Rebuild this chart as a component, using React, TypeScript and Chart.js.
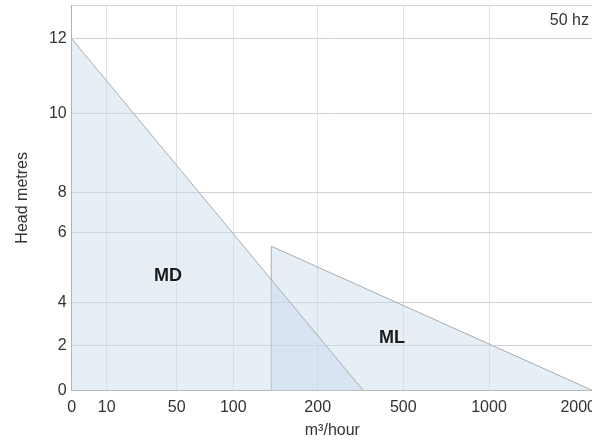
import React, { useEffect, useRef } from 'react';
import { Chart, LinearScale, registerables } from 'chart.js';

// ---- data ----
const flowTicks = [0, 10, 50, 100, 200, 500, 1000, 2000];
const headTicks = [0, 2, 4, 6, 8, 10, 12];

const mdFlow = [0, 360];
const mdHead = [12, 0];
const mlFlow = [145, 145, 2000];
const mlHead = [0, 5.6, 0];

const regionNames = ['MD', 'ML'];
const regionFlow = [45, 460];
const regionHead = [4.75, 2.34];

const freqNote = '50 hz';

// ---- axis definition: breakpoints and their printed relative spacing ----
const flowBreaks = [0, 10, 50, 100, 200, 500, 1000, 2000];
const flowSpans = [35, 70, 56.6, 84.4, 85.6, 85.7, 104];
const headBreaks = [0, 2, 4, 6, 8, 10, 12, 13];
const headSpans = [45.4, 43, 70, 40, 78.6, 74.7, 33.7];

const BREAKS: Record<string, { values: number[]; spans: number[]; ticks: number[] }> = {
  x: { values: flowBreaks, spans: flowSpans, ticks: flowTicks },
  y: { values: headBreaks, spans: headSpans, ticks: headTicks },
};

class PiecewiseScale extends LinearScale {
  static id = 'piecewise';
  static defaults = {};

  determineDataLimits() {
    const b = BREAKS[this.id];
    this.min = b.values[0];
    this.max = b.values[b.values.length - 1];
  }

  buildTicks() {
    return BREAKS[this.id].ticks.map((value) => ({ value }));
  }

  getPixelForValue(value: number) {
    const { values, spans } = BREAKS[this.id];
    const total = spans.reduce((a, b) => a + b, 0);
    let acc = 0;
    for (let i = 0; i < spans.length; i++) {
      const a = values[i];
      const b = values[i + 1];
      if (value <= b || i === spans.length - 1) {
        const f = (value - a) / (b - a);
        return this.getPixelForDecimal((acc + f * spans[i]) / total);
      }
      acc += spans[i];
    }
    return this.getPixelForDecimal(0);
  }

  getValueForPixel(pixel: number) {
    const { values, spans } = BREAKS[this.id];
    const total = spans.reduce((a, b) => a + b, 0);
    let t = this.getDecimalForPixel(pixel) * total;
    for (let i = 0; i < spans.length; i++) {
      if (t <= spans[i] || i === spans.length - 1) {
        return values[i] + (t / spans[i]) * (values[i + 1] - values[i]);
      }
      t -= spans[i];
    }
    return values[0];
  }

  // keep horizontal labels inside the chart's right edge
  _computeLabelItems(chartArea: any) {
    // @ts-ignore
    const items = super._computeLabelItems(chartArea);
    if (this.isHorizontal()) {
      const ctx = this.ctx;
      const limit = this.chart.width - 4;
      items.forEach((item: any) => {
        ctx.save();
        ctx.font = item.font.string;
        const w = ctx.measureText(String(item.label)).width;
        ctx.restore();
        const [tx, ty] = item.options.translation;
        if (tx + w / 2 > limit) {
          item.options.textAlign = 'right';
          item.options.translation = [limit, ty];
        }
      });
    }
    return items;
  }
}

Chart.register(...registerables, PiecewiseScale);

const FONT = '"Liberation Sans", Arial, Helvetica, sans-serif';

const annotate = {
  id: 'annotate',
  afterDatasetsDraw(chart: any) {
    const { ctx, scales, chartArea } = chart;
    const x = scales.x;
    const y = scales.y;
    ctx.save();
    ctx.font = `bold 18px ${FONT}`;
    ctx.fillStyle = '#1a1a1a';
    ctx.textAlign = 'center';
    ctx.textBaseline = 'middle';
    regionNames.forEach((n, i) => {
      ctx.fillText(n, x.getPixelForValue(regionFlow[i]), y.getPixelForValue(regionHead[i]));
    });
    ctx.font = `16px ${FONT}`;
    ctx.fillStyle = '#333';
    ctx.textAlign = 'right';
    ctx.fillText(freqNote, chartArea.right - 4, chartArea.top + 16);
    ctx.restore();
  },
};

export default function App() {
  const ref = useRef<HTMLCanvasElement>(null);

  useEffect(() => {
    if (!ref.current) return;
    const fill = 'rgba(200, 218, 236, 0.45)';
    const line = '#ababab';
    const chart = new Chart(ref.current, {
      type: 'line',
      data: {
        datasets: [
          {
            label: 'MD',
            data: mdFlow.map((f, i) => ({ x: f, y: mdHead[i] })),
            fill: 'origin',
            backgroundColor: fill,
            borderColor: line,
            borderWidth: 1,
            pointRadius: 0,
            tension: 0,
          },
          {
            label: 'ML',
            data: mlFlow.map((f, i) => ({ x: f, y: mlHead[i] })),
            fill: 'origin',
            backgroundColor: fill,
            borderColor: line,
            borderWidth: 1,
            pointRadius: 0,
            tension: 0,
          },
        ],
      },
      options: {
        animation: false,
        responsive: true,
        maintainAspectRatio: false,
        font: { family: FONT },
        layout: { padding: { left: 9, top: 5, right: 7, bottom: 0 } },
        plugins: {
          legend: { display: false },
          tooltip: { enabled: false },
        },
        scales: {
          x: {
            type: 'piecewise' as any,
            position: 'bottom',
            afterFit: (s: any) => {
              s.paddingRight = 0;
              s.height = 53.3;
            },
            grid: {
              color: '#e2e2e2',
              drawTicks: false,
            },
            border: { display: true, color: '#b3b3b3' },
            ticks: {
              autoSkip: false,
              maxRotation: 0,
              padding: 7,
              color: '#333',
              font: { size: 16, family: FONT },
              callback: (v: any) => String(v),
            },
            title: {
              display: true,
              text: 'm³/hour',
              color: '#333',
              font: { size: 16, family: FONT },
              padding: { top: 0, bottom: 4 },
            },
          } as any,
          xTop: {
            type: 'linear',
            position: 'top',
            min: 0,
            max: 1,
            ticks: { display: false },
            grid: { display: false, drawTicks: false },
            border: { display: true, color: '#d6d6d6' },
          },
          y: {
            type: 'piecewise' as any,
            position: 'left',
            afterFit: (s: any) => {
              s.paddingTop = 0;
              s.width = 62.7;
            },
            grid: {
              color: '#cfd0d5',
              drawTicks: false,
            },
            border: { display: true, color: '#b3b3b3' },
            ticks: {
              autoSkip: false,
              padding: 5,
              color: '#333',
              font: { size: 16, family: FONT },
              callback: (v: any) => String(v),
            },
            title: {
              display: true,
              text: 'Head metres',
              color: '#333',
              font: { size: 16, family: FONT },
              padding: { top: 3.5, bottom: 10 },
            },
          } as any,
        },
      },
      plugins: [annotate],
    });
    return () => chart.destroy();
  }, []);

  return (
    <div style={{ position: 'fixed', left: 0, top: 0, width: 600, height: 444, background: '#fff' }}>
      <canvas ref={ref} />
    </div>
  );
}
